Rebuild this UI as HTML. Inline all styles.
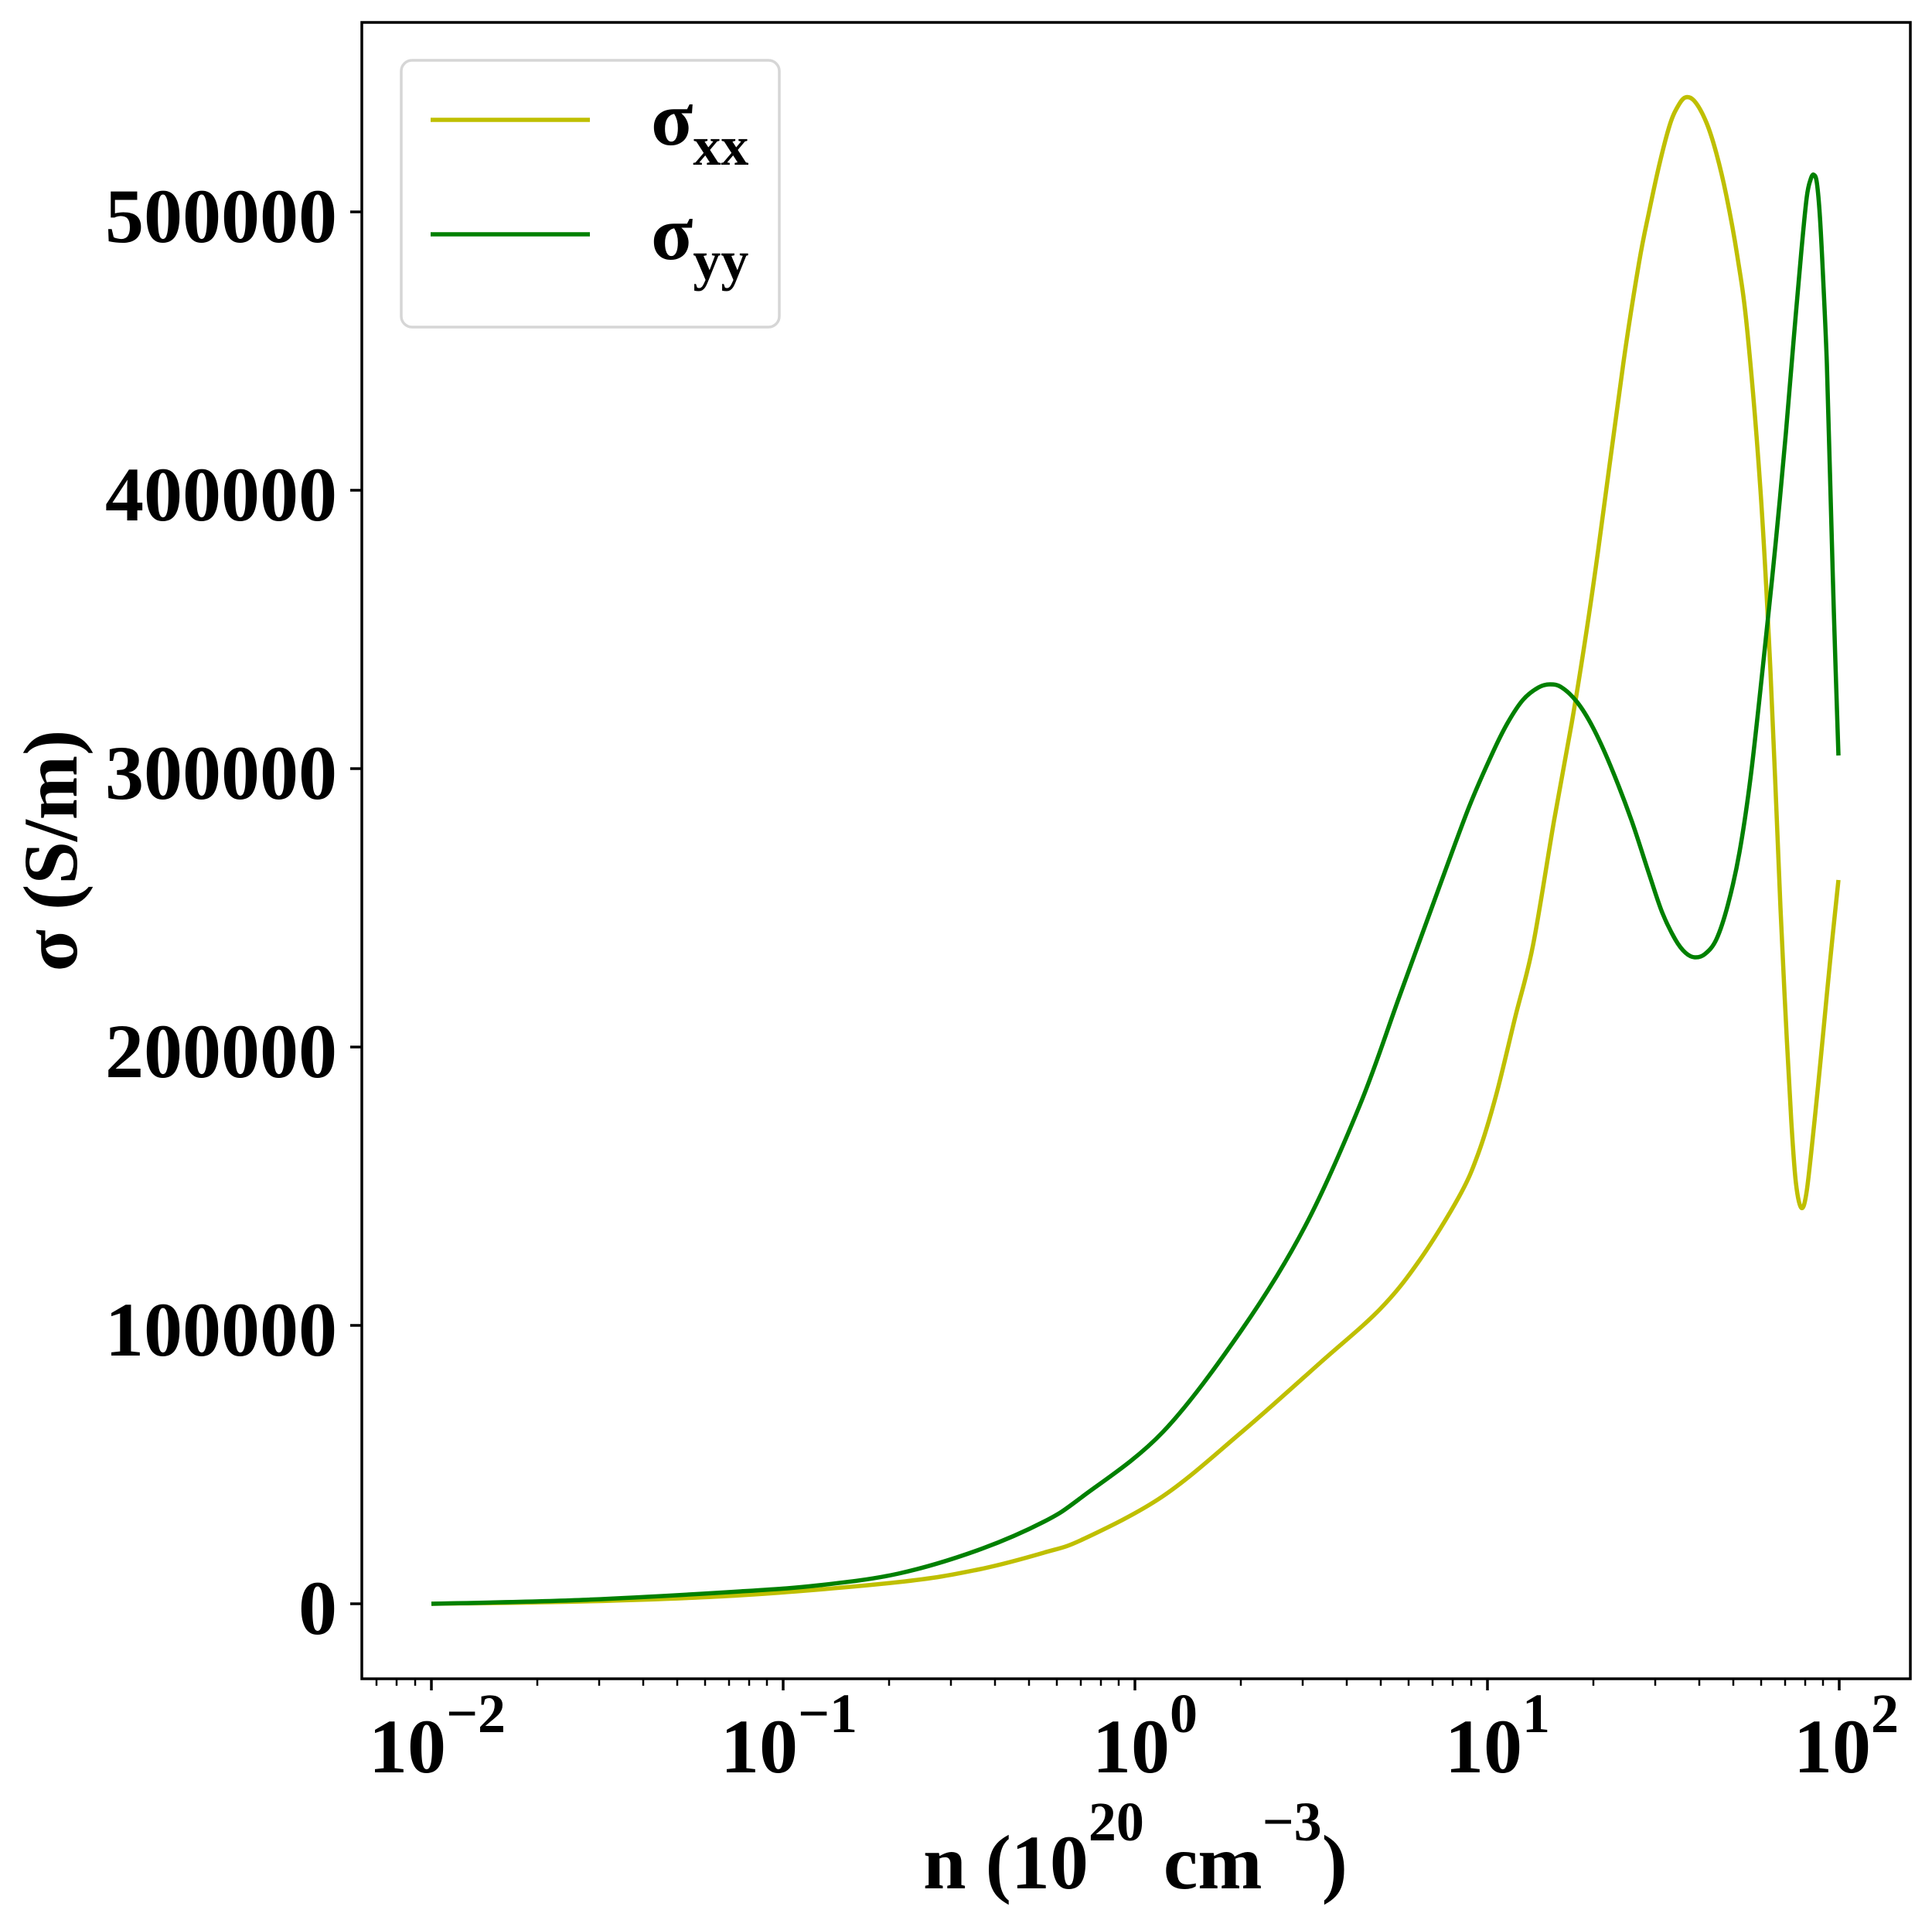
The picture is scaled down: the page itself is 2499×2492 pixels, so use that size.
<!DOCTYPE html>
<html><head><meta charset="utf-8"><style>
html,body{margin:0;padding:0;background:#fff;}
svg{display:block;}
text{font-family:"Liberation Serif","Times New Roman",serif;font-weight:bold;fill:#000;}
</style></head><body>
<svg width="2499" height="2492" viewBox="0 0 2499 2492" xmlns="http://www.w3.org/2000/svg">
<rect width="2499" height="2492" fill="#fff"/>
<g fill="none" stroke-width="5.5" stroke-linejoin="round" stroke-linecap="butt">
<polyline id="cy" stroke="#bfbf00" points="558,2074 754,2071 958,2063 1162,2046 1264,2030 1350,2008 1402,1990 1504,1935 1606,1852 1708,1762 1785,1693 1836,1630 1887,1548 1912,1492 1935,1417 1960,1315 1983,1222 2010,1062 2033,935 2050,830 2067,713 2100,468 2120,340 2133,274 2147,210 2160,161 2170,138 2180,126 2192,131 2207,158 2220,198 2233,253 2247,330 2260,427 2277,632 2290,867 2303,1174 2310,1320 2317,1450 2323,1530 2330,1562 2337,1540 2347,1450 2355,1370 2363,1286 2370,1215 2378,1138"/>
<polyline id="cg" stroke="#008000" points="558,2074 754,2069 958,2058 1060,2050 1162,2035 1264,2005 1350,1968 1402,1934 1504,1852 1606,1720 1688,1586 1759,1429 1810,1289 1861,1149 1900,1044 1930,975 1950,935 1970,905 1990,889 2005,885 2020,889 2040,908 2060,940 2083,990 2110,1060 2133,1130 2150,1180 2167,1215 2180,1232 2192,1238 2205,1234 2220,1215 2235,1170 2250,1102 2265,1000 2283,836 2297,700 2310,560 2320,440 2330,325 2337,255 2342,232 2346,226 2350,236 2354,280 2358,356 2363,470 2367,611 2372,790 2378,977"/>
</g>
<rect x="468" y="29" width="2003" height="2142" fill="none" stroke="#000" stroke-width="3.5"/>
<g stroke="#000" stroke-width="3.5">
<line x1="453" y1="2074" x2="468" y2="2074"/>
<line x1="453" y1="1714" x2="468" y2="1714"/>
<line x1="453" y1="1354" x2="468" y2="1354"/>
<line x1="453" y1="994" x2="468" y2="994"/>
<line x1="453" y1="634" x2="468" y2="634"/>
<line x1="453" y1="274" x2="468" y2="274"/>
</g>
<g font-size="100" text-anchor="end">
<text x="436" y="2113">0</text>
<text x="436" y="1753">100000</text>
<text x="436" y="1393">200000</text>
<text x="436" y="1033">300000</text>
<text x="436" y="673">400000</text>
<text x="436" y="313">500000</text>
</g>
<g stroke="#000" stroke-width="3.5">
<line x1="558" y1="2171" x2="558" y2="2186"/>
<line x1="1013" y1="2171" x2="1013" y2="2186"/>
<line x1="1468" y1="2171" x2="1468" y2="2186"/>
<line x1="1924" y1="2171" x2="1924" y2="2186"/>
<line x1="2379" y1="2171" x2="2379" y2="2186"/>
</g>
<g stroke="#000" stroke-width="2.5">
<line x1="487" y1="2171" x2="487" y2="2180"/><line x1="513" y1="2171" x2="513" y2="2180"/><line x1="537" y1="2171" x2="537" y2="2180"/>
<line x1="695" y1="2171" x2="695" y2="2180"/><line x1="775" y1="2171" x2="775" y2="2180"/><line x1="832" y1="2171" x2="832" y2="2180"/><line x1="876" y1="2171" x2="876" y2="2180"/><line x1="912" y1="2171" x2="912" y2="2180"/><line x1="943" y1="2171" x2="943" y2="2180"/><line x1="969" y1="2171" x2="969" y2="2180"/><line x1="992" y1="2171" x2="992" y2="2180"/>
<line x1="1150" y1="2171" x2="1150" y2="2180"/><line x1="1230" y1="2171" x2="1230" y2="2180"/><line x1="1287" y1="2171" x2="1287" y2="2180"/><line x1="1331" y1="2171" x2="1331" y2="2180"/><line x1="1367" y1="2171" x2="1367" y2="2180"/><line x1="1398" y1="2171" x2="1398" y2="2180"/><line x1="1424" y1="2171" x2="1424" y2="2180"/><line x1="1447" y1="2171" x2="1447" y2="2180"/>
<line x1="1605" y1="2171" x2="1605" y2="2180"/><line x1="1685" y1="2171" x2="1685" y2="2180"/><line x1="1742" y1="2171" x2="1742" y2="2180"/><line x1="1786" y1="2171" x2="1786" y2="2180"/><line x1="1822" y1="2171" x2="1822" y2="2180"/><line x1="1853" y1="2171" x2="1853" y2="2180"/><line x1="1879" y1="2171" x2="1879" y2="2180"/><line x1="1903" y1="2171" x2="1903" y2="2180"/>
<line x1="2061" y1="2171" x2="2061" y2="2180"/><line x1="2141" y1="2171" x2="2141" y2="2180"/><line x1="2198" y1="2171" x2="2198" y2="2180"/><line x1="2242" y1="2171" x2="2242" y2="2180"/><line x1="2278" y1="2171" x2="2278" y2="2180"/><line x1="2309" y1="2171" x2="2309" y2="2180"/><line x1="2335" y1="2171" x2="2335" y2="2180"/><line x1="2358" y1="2171" x2="2358" y2="2180"/>
</g>
<g font-size="100">
<text x="477" y="2292">10<tspan font-size="72" dy="-52">−2</tspan></text>
<text x="932" y="2292">10<tspan font-size="72" dy="-52">−1</tspan></text>
<text x="1413" y="2292">10<tspan font-size="72" dy="-52">0</tspan></text>
<text x="1869" y="2292">10<tspan font-size="72" dy="-52">1</tspan></text>
<text x="2320" y="2292">10<tspan font-size="72" dy="-52">2</tspan></text>
</g>
<text x="1194" y="2442" font-size="100">n (10<tspan font-size="72" dy="-62">20</tspan><tspan dy="62"> cm</tspan><tspan font-size="72" dy="-62">−3</tspan><tspan dy="62">)</tspan></text>
<text transform="translate(99,1100) rotate(-90)" text-anchor="middle" font-size="100">σ (S/m)</text>
<rect x="519" y="78" width="489" height="345" rx="14" ry="14" fill="#fff" fill-opacity="0.8" stroke="#d6d6d6" stroke-width="3.5"/>
<line x1="557" y1="155" x2="763" y2="155" stroke="#bfbf00" stroke-width="5.5"/>
<line x1="557" y1="303" x2="763" y2="303" stroke="#008000" stroke-width="5.5"/>
<text x="842" y="187" font-size="100">σ<tspan font-size="72" dy="26">xx</tspan></text>
<text x="842" y="335" font-size="100">σ<tspan font-size="72" dy="26">yy</tspan></text>
</svg>
<script>
(function(){
['cy','cg'].forEach(function(id){
 var pl=document.getElementById(id);
 var pts=pl.getAttribute('points').trim().split(/\s+/).map(function(s){var a=s.split(',');return [+a[0],+a[1]];});
 var d='M'+pts[0][0]+','+pts[0][1];
 for(var i=0;i<pts.length-1;i++){
  var p0=pts[i-1]||pts[i],p1=pts[i],p2=pts[i+1],p3=pts[i+2]||p2;
  var c1x=p1[0]+(p2[0]-p0[0])/6,c1y=p1[1]+(p2[1]-p0[1])/6;
  var c2x=p2[0]-(p3[0]-p1[0])/6,c2y=p2[1]-(p3[1]-p1[1])/6;
  d+=' C'+c1x.toFixed(1)+','+c1y.toFixed(1)+' '+c2x.toFixed(1)+','+c2y.toFixed(1)+' '+p2[0]+','+p2[1];
 }
 var p=document.createElementNS('http://www.w3.org/2000/svg','path');
 p.setAttribute('d',d);p.setAttribute('stroke',pl.getAttribute('stroke'));
 p.setAttribute('fill','none');p.setAttribute('stroke-width','5.5');p.setAttribute('stroke-linejoin','round');
 pl.parentNode.replaceChild(p,pl);
});
})();
</script>
</body></html>
